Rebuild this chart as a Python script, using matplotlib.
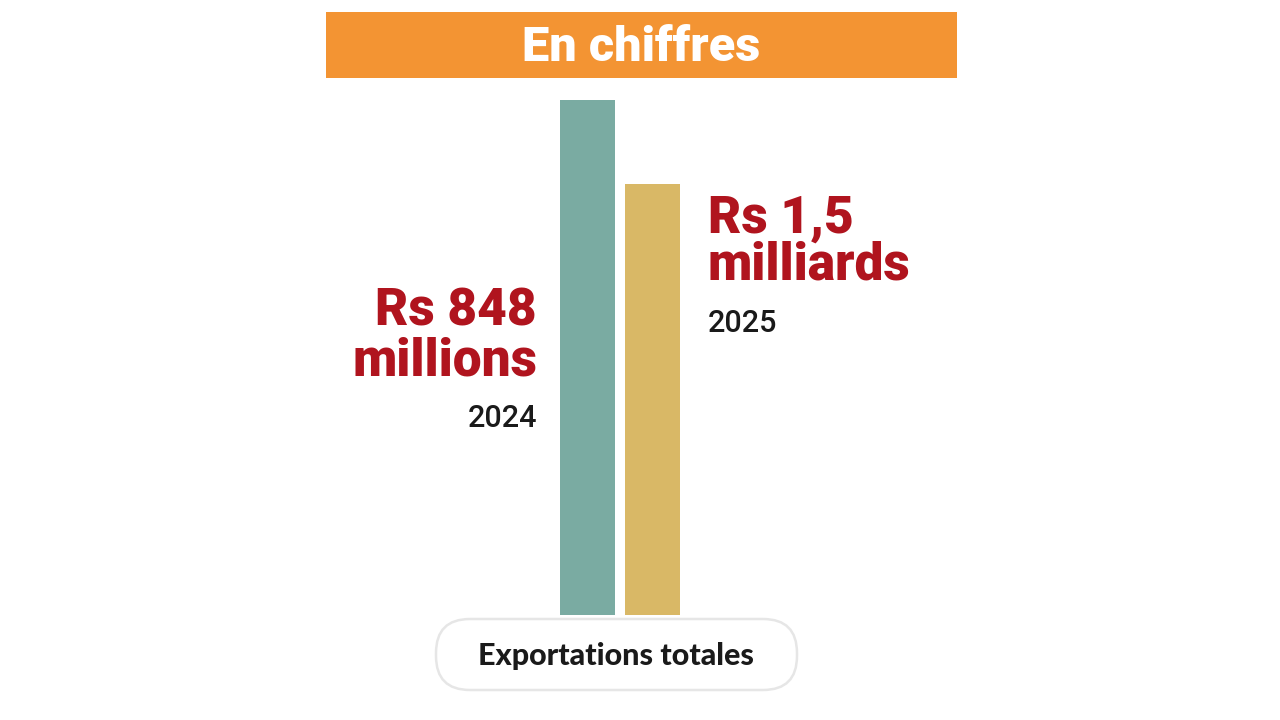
import matplotlib
matplotlib.use("Agg")
import matplotlib.pyplot as plt
from matplotlib.patches import FancyBboxPatch, Rectangle

# ---- data ----
years = ["2024", "2025"]
bar_heights = [515, 431]          # relative bar heights as drawn in the graphic
value_labels = [["Rs 848", "millions"], ["Rs 1,5", "milliards"]]
bar_colors = ["#7AABA2", "#D9B866"]
title = "En chiffres"
category = "Exportations totales"

W, H = 1280, 720
fig = plt.figure(figsize=(12.8, 7.2), dpi=100)
fig.patch.set_facecolor("white")

# overlay axes in pixel units for decorations
deco = fig.add_axes([0, 0, 1, 1], zorder=0)
deco.set_xlim(0, W)
deco.set_ylim(H, 0)
deco.axis("off")

# title banner
deco.add_patch(Rectangle((326, 12), 631, 66, facecolor="#F39433", edgecolor="none"))
deco.text(641, 48, title, color="white", fontsize=35, fontweight="black",
          family="Roboto", ha="center", va="center")

# category pill
deco.add_patch(FancyBboxPatch((436, 619), 361, 71,
                              boxstyle="round,pad=0,rounding_size=34",
                              facecolor="white", edgecolor="#E6E6E6", linewidth=1.8))
deco.text(616, 656, category, color="#1a1a1a", fontsize=22, fontweight="black",
          family="Lato", ha="center", va="center")

# labels
red = "#B0141E"
label_style = dict(color=red, fontsize=37, fontweight="black", family="Roboto", va="baseline")
year_style = dict(color="#1a1a1a", fontsize=22, fontweight="medium", family="Roboto", va="baseline")

for line, yb in zip(value_labels[0], [325, 375]):
    deco.text(537, yb, line, ha="right", **label_style)
deco.text(537, 427, years[0], ha="right", **year_style)

for line, yb in zip(value_labels[1], [233, 280]):
    deco.text(708, yb, line, ha="left", **label_style)
deco.text(708, 332, years[1], ha="left", **year_style)

# bars
ax = fig.add_axes([560 / W, 1 - 615 / H, 120 / W, 515 / H], zorder=1)
x = [0, 1]
ax.bar(x, bar_heights, width=0.85, color=bar_colors, align="center")
ax.set_xlim(-0.425, 1.425)
ax.set_ylim(0, max(bar_heights))
ax.axis("off")

fig.savefig("out.png", dpi=100, facecolor="white")
